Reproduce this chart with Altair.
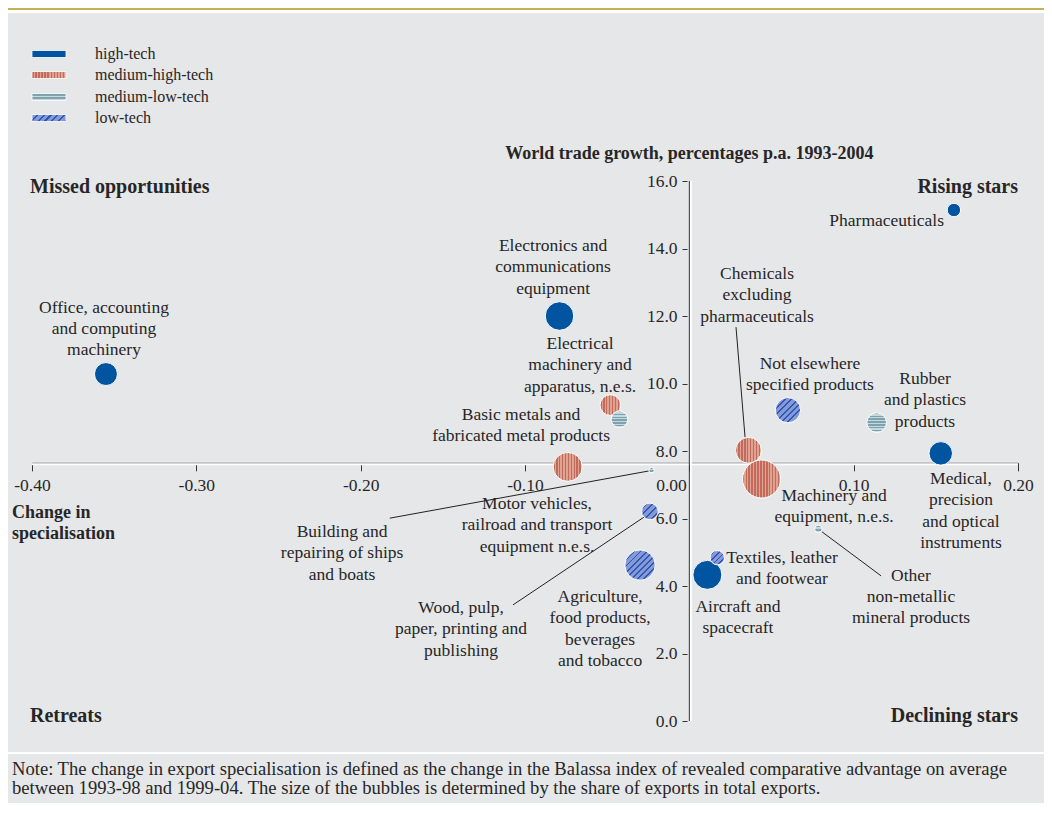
import math
import altair as alt
import pandas as pd

# ---------------- data ----------------
products = [
    "Pharmaceuticals",
    "Electronics and communications equipment",
    "Office, accounting and computing machinery",
    "Electrical machinery and apparatus, n.e.s.",
    "Basic metals and fabricated metal products",
    "Chemicals excluding pharmaceuticals",
    "Machinery and equipment, n.e.s.",
    "Not elsewhere specified products",
    "Rubber and plastics products",
    "Medical, precision and optical instruments",
    "Motor vehicles, railroad and transport equipment n.e.s.",
    "Building and repairing of ships and boats",
    "Wood, pulp, paper, printing and publishing",
    "Agriculture, food products, beverages and tobacco",
    "Aircraft and spacecraft",
    "Textiles, leather and footwear",
    "Other non-metallic mineral products",
]
tech = [
    "high-tech", "high-tech", "high-tech", "medium-high-tech", "medium-low-tech",
    "medium-high-tech", "medium-high-tech", "low-tech", "medium-low-tech", "high-tech",
    "medium-high-tech", "medium-low-tech", "low-tech", "low-tech", "high-tech",
    "low-tech", "medium-low-tech",
]
spec_change = [0.161, -0.079, -0.355, -0.048, -0.0425, 0.036, 0.044, 0.060, 0.114,
               0.153, -0.074, -0.023, -0.024, -0.030, 0.011, 0.017, 0.0785]
trade_growth = [15.14, 12.0, 10.28, 9.36, 8.94, 8.02, 7.17, 9.21, 8.84,
                7.93, 7.53, 7.43, 6.21, 4.62, 4.33, 4.84, 5.69]
export_share = [1.5, 6.8, 4.4, 3.6, 2.3, 5.6, 12.1, 5.3, 3.2,
                4.6, 7.0, 0.25, 2.3, 7.7, 7.0, 1.7, 0.46]
label_text = [
    "Pharmaceuticals",
    "Electronics and\ncommunications\nequipment",
    "Office, accounting\nand computing\nmachinery",
    "Electrical\nmachinery and\napparatus, n.e.s.",
    "Basic metals and\nfabricated metal products",
    "Chemicals\nexcluding\npharmaceuticals",
    "Machinery and\nequipment, n.e.s.",
    "Not elsewhere\nspecified products",
    "Rubber\nand plastics\nproducts",
    "Medical,\nprecision\nand optical\ninstruments",
    "Motor vehicles,\nrailroad and transport\nequipment n.e.s.",
    "Building and\nrepairing of ships\nand boats",
    "Wood, pulp,\npaper, printing and\npublishing",
    "Agriculture,\nfood products,\nbeverages\nand tobacco",
    "Aircraft and\nspacecraft",
    "Textiles, leather\nand footwear",
    "Other\nnon-metallic\nmineral products",
]
categories = ["high-tech", "medium-high-tech", "medium-low-tech", "low-tech"]
x_ticks = [-0.40, -0.30, -0.20, -0.10, 0.00, 0.10, 0.20]
y_ticks = [0, 2, 4, 6, 8, 10, 12, 14, 16]
title_text = "World trade growth, percentages p.a. 1993-2004"
x_title = ["Change in", "specialisation"]
quadrants = ["Missed opportunities", "Rising stars", "Retreats", "Declining stars"]
note_text = [
    "Note: The change in export specialisation is defined as the change in the Balassa index of revealed comparative advantage on average",
    "between 1993-98 and 1999-04. The size of the bubbles is determined by the share of exports in total exports.",
]

# ---------------- layout / style ----------------
W, H = 986, 540
X_DOM = [-0.40, 0.20]
Y_DOM = [0, 16]
PX_X = W / (X_DOM[1] - X_DOM[0])
PX_Y = H / (Y_DOM[1] - Y_DOM[0])
AXIS_CROSS = 7.65          # where the horizontal axis crosses
R_MAX = 21.5               # radius (px) of the largest bubble
SERIF = "Liberation Serif"
TXT = "#262626"
BG = "#e6e7e9"
GOLD = "#c2b259"
HIGH = "#0054a0"
MH = ("#c36b5b", "#e0a393")
ML = ("#7ca3ae", "#c6d8dd")
LOW = ("#8599d6", "#2c57b4")
LABEL_FS = 17.5
LINE_H = 21.3

# label anchors: (x centre / edge, y of first line centre, align)
label_pos = [
    (0.1550, 14.84, "right"), (-0.0829, 14.10, "center"), (-0.3562, 12.27, "center"),
    (-0.0665, 11.20, "center"), (-0.1024, 9.10, "center"), (0.0412, 13.27, "center"),
    (0.0881, 6.70, "center"), (0.0734, 10.61, "center"), (0.1434, 10.16, "center"),
    (0.1653, 7.20, "center"), (-0.0927, 6.46, "center"), (-0.2113, 5.63, "center"),
    (-0.1389, 3.38, "center"), (-0.0543, 3.70, "center"), (0.0296, 3.41, "center"),
    (0.0564, 4.86, "center"), (0.1349, 4.33, "center"),
]
leaders = [  # x, y, x2, y2 in data units
    (0.0284, 11.67, 0.0339, 8.41),
    (-0.1823, 6.01, -0.0245, 7.41),
    (-0.1073, 3.44, -0.0276, 6.04),
    (0.0806, 5.61, 0.1167, 4.30),
]

def stripes(c1, c2, n, frac, x2, y2):
    stops = []
    for i in range(n):
        a, b, c = i / n, (i + frac) / n, (i + 1) / n
        stops += [alt.GradientStop(offset=a, color=c1), alt.GradientStop(offset=b, color=c1),
                  alt.GradientStop(offset=b, color=c2), alt.GradientStop(offset=c, color=c2)]
    return alt.LinearGradient(gradient="linear", stops=stops, x1=0, y1=0, x2=x2, y2=y2)

def bubble_fill(cat, r):
    d = 2 * r
    if cat == "high-tech":
        return HIGH
    if cat == "medium-high-tech":
        return stripes(MH[0], MH[1], max(2, round(d / 3.2)), 0.5, 1, 0)
    if cat == "medium-low-tech":
        return stripes(ML[0], ML[1], max(2, round(d / 3.4)), 0.55, 0, 1)
    return stripes(LOW[0], LOW[1], max(2, round(d * 1.414 / 5.0)), 0.7, 1, 1)

# ---------------- tables ----------------
bub = pd.DataFrame({"idx": range(len(products)), "name": products, "tech": tech,
                    "x": spec_change, "y": trade_growth, "share": export_share})
top_shift = 8.0 / PX_Y
lab = pd.DataFrame({"text": label_text,
                    "x": [p[0] for p in label_pos],
                    "y": [p[1] + top_shift for p in label_pos],
                    "align": [p[2] for p in label_pos]})
lead = pd.DataFrame(leaders, columns=["x", "y", "x2", "y2"])
one = pd.DataFrame({"k": [0]})
hline = pd.DataFrame({"x": [X_DOM[0]], "x2": [X_DOM[1]], "y": [AXIS_CROSS]})
vline = pd.DataFrame({"x": [0.0], "y": [Y_DOM[0]], "y2": [Y_DOM[1]]})
title_df = pd.DataFrame({"x": [0.0]})

x_axis = alt.Axis(values=x_ticks, orient="bottom", offset=-(AXIS_CROSS * PX_Y), title=None,
                  labelExpr="(datum.value < 0 ? '-' : '') + format(abs(datum.value), '.2f')",
                  labelFlush=False, labelOverlap=False, tickSize=8, labelPadding=6,
                  labelAlign={"condition": {"test": "datum.value == 0", "value": "right"}, "value": "center"},
                  labelOffset={"condition": {"test": "datum.value == 0", "value": -3}, "value": 0},
                  domainColor="#333333", tickColor="#333333", grid=False)
y_axis = alt.Axis(values=y_ticks, orient="left", offset=-(0.4 * PX_X - 2.3), title=None,
                  format=".1f", domain=False, tickSize=5, labelPadding=5, labelFlush=False,
                  labelOverlap=False, tickColor="#333333", grid=False)
xs = alt.Scale(domain=X_DOM, nice=False, zero=False)
ys = alt.Scale(domain=Y_DOM, nice=False, zero=False)
X = alt.X("x:Q", scale=xs, axis=x_axis)
Y = alt.Y("y:Q", scale=ys, axis=y_axis)

layers = []
# decoration bands
layers.append(alt.Chart(one).mark_rect(color=GOLD).encode(
    x=alt.value(-24), x2=alt.value(1012), y=alt.value(-173), y2=alt.value(-171)))
layers.append(alt.Chart(one).mark_rect(color="white").encode(
    x=alt.value(-24), x2=alt.value(1012), y=alt.value(-171), y2=alt.value(-168)))
layers.append(alt.Chart(one).mark_rect(color="white").encode(
    x=alt.value(-24), x2=alt.value(1012), y=alt.value(571), y2=alt.value(573)))
# axis lines
layers.append(alt.Chart(hline).mark_rule(color="white", strokeWidth=2, yOffset=1.5).encode(
    x=X, x2="x2:Q", y=Y))
layers.append(alt.Chart(vline).mark_rule(color="white", strokeWidth=2, xOffset=1.5).encode(
    x=X, y=Y, y2="y2:Q"))
layers.append(alt.Chart(vline).mark_rule(color="#333333", strokeWidth=1).encode(
    x=X, y=Y, y2="y2:Q"))
# leader lines
layers.append(alt.Chart(lead).mark_rule(color="#222222", strokeWidth=1).encode(
    x=X, y=Y, x2="x2:Q", y2="y2:Q"))
# bubbles
smax = max(export_share)
size_scale = alt.Scale(domain=[0, smax], range=[0, math.pi * R_MAX ** 2])
for i in range(len(products)):
    r = R_MAX * math.sqrt(export_share[i] / smax)
    layers.append(
        alt.Chart(bub).transform_filter(alt.datum.idx == i)
        .mark_circle(fill=bubble_fill(tech[i], r), opacity=1, stroke="white", strokeWidth=1)
        .encode(x=X, y=Y, size=alt.Size("share:Q", scale=size_scale, legend=None),
                tooltip=["name:N", "tech:N", "x:Q", "y:Q", "share:Q"]))
# labels
for al in ["center", "right"]:
    layers.append(
        alt.Chart(lab).transform_filter(alt.datum.align == al)
        .mark_text(align=al, baseline="top", lineBreak="\n", lineHeight=LINE_H,
                   font=SERIF, fontSize=LABEL_FS, color=TXT)
        .encode(x=X, y=Y, text="text:N"))
# title on top of y axis
layers.append(alt.Chart(title_df).mark_text(text=title_text, align="center", baseline="middle",
                                            font=SERIF, fontSize=18, fontWeight="bold", color=TXT)
              .encode(x=X, y=alt.value(-27)))
# x axis title
layers.append(alt.Chart(one).mark_text(text=x_title, align="left", baseline="top", lineHeight=21,
                                       font=SERIF, fontSize=18, fontWeight="bold", color=TXT)
              .encode(x=alt.value(-20), y=alt.value(323)))
# quadrant names
quad_pos = [(-2, 6, "left"), (986, 6, "right"), (-2, 535, "left"), (986, 535, "right")]
for q, (qx, qy, qa) in zip(quadrants, quad_pos):
    layers.append(alt.Chart(one).mark_text(text=q, align=qa, baseline="middle", font=SERIF,
                                           fontSize=20, fontWeight="bold", color=TXT)
                  .encode(x=alt.value(qx), y=alt.value(qy)))
# legend
legend_fill = {
    "high-tech": HIGH,
    "medium-high-tech": stripes(MH[0], MH[1], 11, 0.5, 1, 0),
    "medium-low-tech": stripes(ML[0], ML[1], 2, 0.6, 0, 1),
    "low-tech": stripes(LOW[0], LOW[1], 6, 0.7, 1.157, 0.238),
}
legend_y = [-127, -106, -84, -63]
for cat, ly in zip(categories, legend_y):
    layers.append(alt.Chart(one).mark_rect(fill=legend_fill[cat], stroke="white", strokeWidth=0.8)
                  .encode(x=alt.value(0), x2=alt.value(34), y=alt.value(ly - 3.5), y2=alt.value(ly + 3.5)))
    layers.append(alt.Chart(one).mark_text(text=cat, align="left", baseline="middle", font=SERIF,
                                           fontSize=16, color=TXT)
                  .encode(x=alt.value(63), y=alt.value(ly)))
# note
layers.append(alt.Chart(one).mark_text(text=note_text, align="left", baseline="top", lineHeight=19,
                                       font=SERIF, fontSize=18.6, color=TXT)
              .encode(x=alt.value(-20), y=alt.value(579)))

chart = alt.layer(*layers).properties(
    width=W, height=H,
    padding={"left": 24, "top": 173, "right": 26, "bottom": 82},
    autosize=alt.AutoSizeParams(type="none"),
    background=BG,
).configure_view(stroke=None).configure_axis(
    labelFont=SERIF, labelFontSize=17.5, labelColor=TXT)

chart.save("out.html", embed_options={"renderer": "svg", "actions": False})
